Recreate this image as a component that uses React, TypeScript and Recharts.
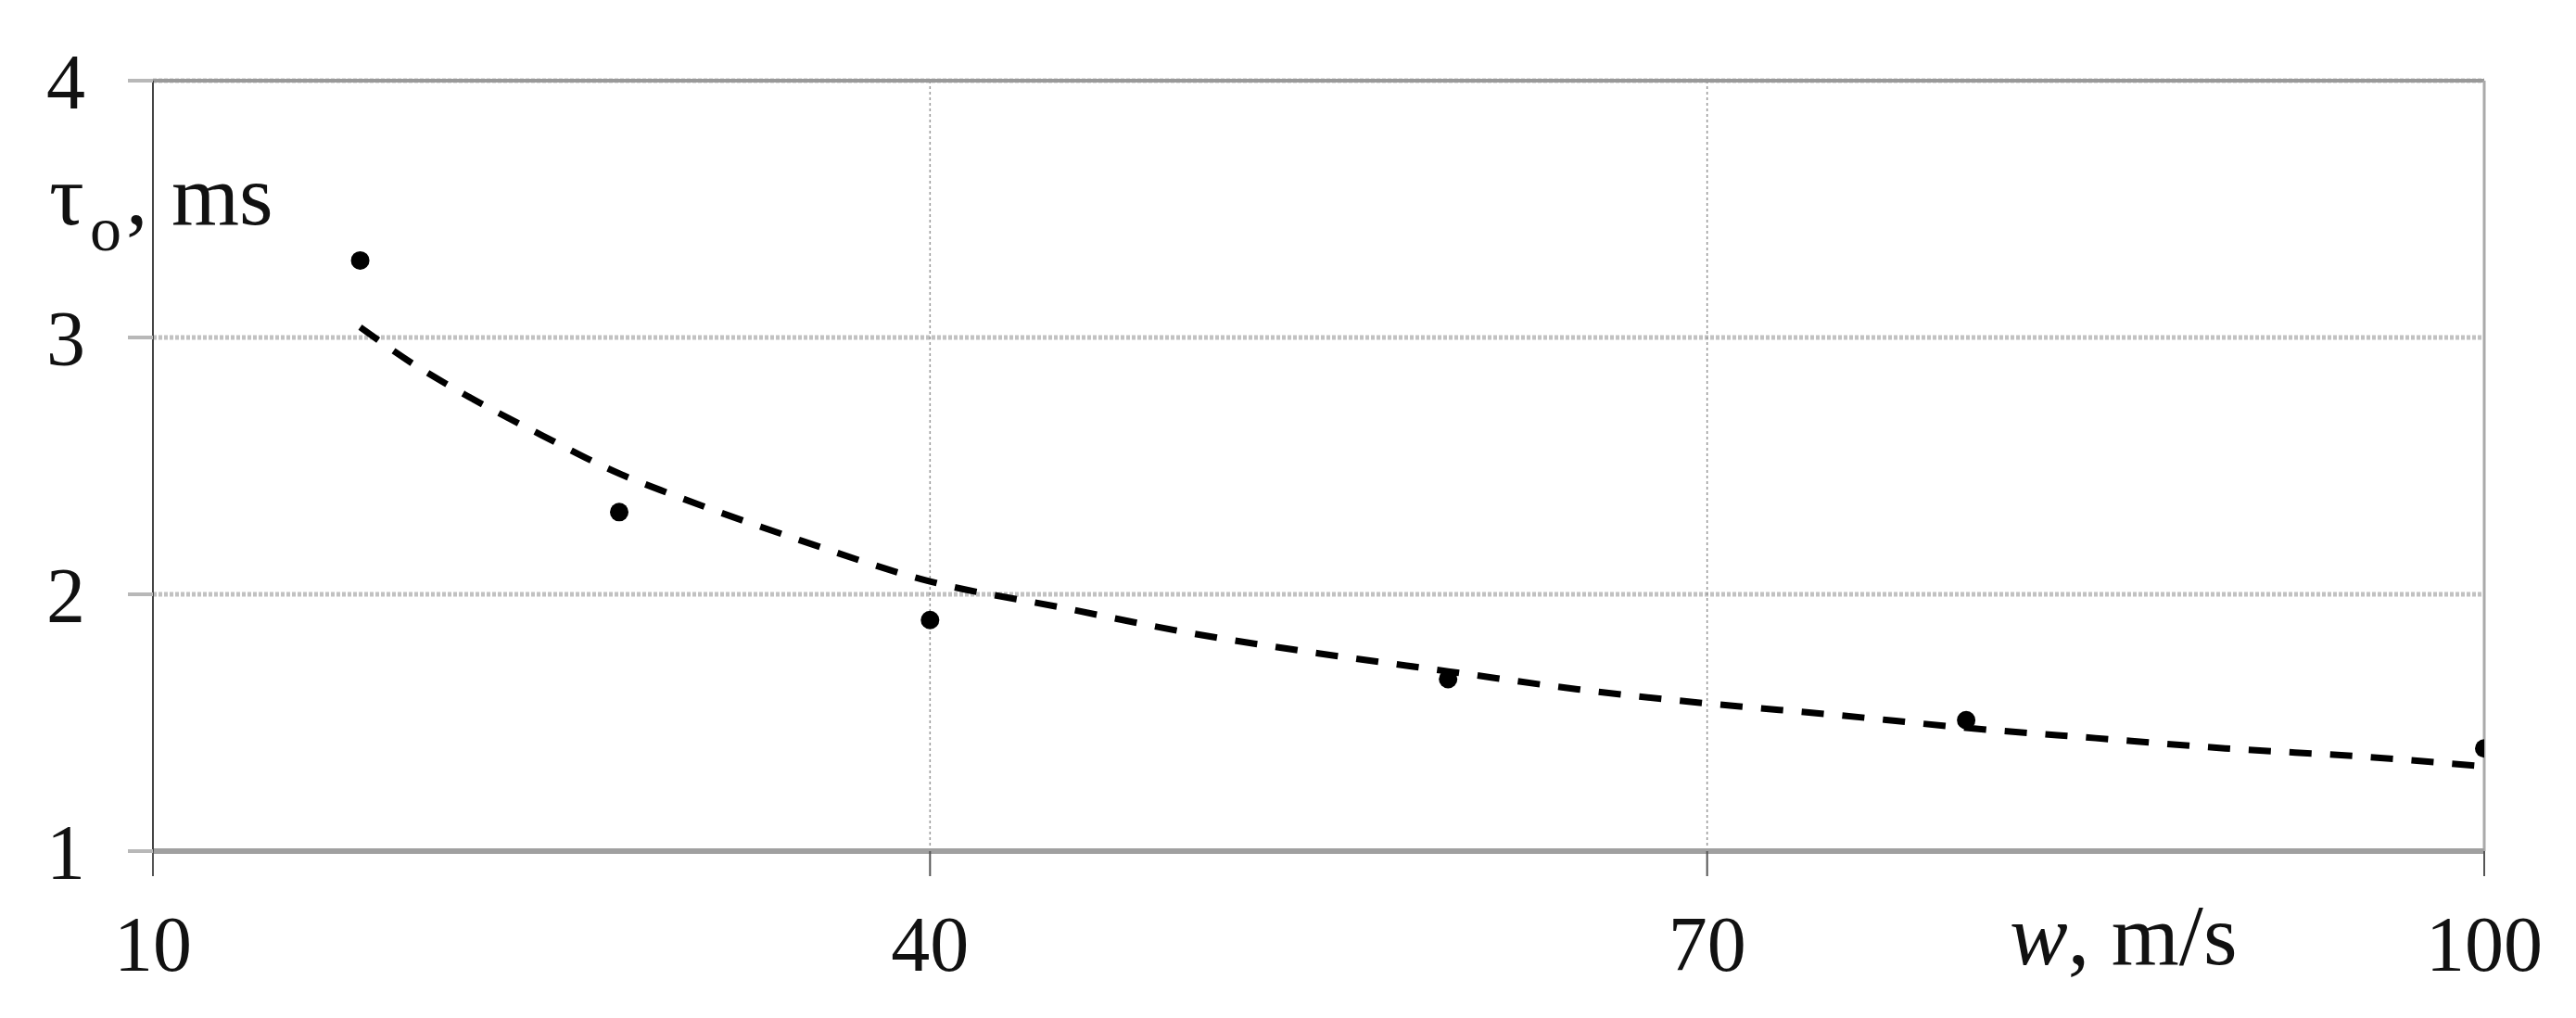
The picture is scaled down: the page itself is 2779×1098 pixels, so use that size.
import React from 'react';
import {
  ComposedChart,
  XAxis,
  YAxis,
  CartesianGrid,
  Scatter,
  Line,
  ReferenceLine,
} from 'recharts';

// measured points: w (m/s) vs tau_o (ms)
const pointW = [18, 28, 40, 60, 80, 100];
const pointTau = [3.3, 2.32, 1.9, 1.67, 1.51, 1.4];

// dashed trend curve
const trendW = [18, 20, 22, 25, 28, 30, 35, 40, 45, 50, 55, 60, 65, 70, 75, 80, 85, 90, 95, 100];
const trendTau = [3.04, 2.9, 2.78, 2.62, 2.47, 2.39, 2.21, 2.05, 1.95, 1.85, 1.77, 1.7, 1.63, 1.575, 1.53, 1.48, 1.44, 1.4, 1.37, 1.33];

const xTicks = [10, 40, 70, 100];
const yTicks = [1, 2, 3, 4];

const points = pointW.map((w, i) => ({ w, tau: pointTau[i] }));
const trend = trendW.map((w, i) => ({ w, tau: trendTau[i] }));

const W = 2779;
const H = 1098;
const FONT = '"Liberation Serif", "Times New Roman", serif';

const Dot = (props: any) => <circle cx={props.cx} cy={props.cy} r={10} fill="#000" />;

export default function App() {
  return (
    <div style={{ position: 'absolute', left: 0, top: 0, width: W, height: H, background: '#fff' }}>
      <ComposedChart width={W} height={H} margin={{ top: 87, right: 99, left: 20, bottom: 20 }}>
        <CartesianGrid
          horizontal={true}
          vertical={false}
          stroke="#c2c2c2"
          strokeWidth={5}
          strokeDasharray="4 2"
        />
        <CartesianGrid
          horizontal={false}
          vertical={true}
          stroke="#999"
          strokeWidth={1.5}
          strokeDasharray="3 3"
        />
        <XAxis
          type="number"
          dataKey="w"
          domain={[10, 100]}
          ticks={xTicks}
          allowDataOverflow
          height={160}
          tickSize={27}
          tickMargin={42}
          tickLine={{ stroke: '#555', strokeWidth: 2 }}
          axisLine={{ stroke: '#a0a0a0', strokeWidth: 6 }}
          tick={{ fontFamily: FONT, fontSize: 84, fill: '#111' }}
          label={{
            content: () => (
              <text x={2168} y={1040} fontFamily={FONT} fontSize={94} fill="#111">
                <tspan fontStyle="italic">w</tspan>
                <tspan>, m/s</tspan>
              </text>
            ),
          }}
        />
        <YAxis
          type="number"
          dataKey="tau"
          domain={[1, 4]}
          ticks={yTicks}
          allowDataOverflow
          width={145}
          tickSize={27}
          tickMargin={46}
          tickLine={{ stroke: '#b8b8b8', strokeWidth: 4 }}
          axisLine={{ stroke: '#444', strokeWidth: 2 }}
          tick={{ fontFamily: FONT, fontSize: 84, fill: '#111' }}
          label={{
            content: () => (
              <text y={242} fontFamily={FONT} fontSize={94} fill="#111">
                <tspan x={53}>τ</tspan>
                <tspan x={97} dy={28} fontSize={68}>o</tspan>
                <tspan x={136} dy={-28}>,</tspan>
                <tspan x={185}>ms</tspan>
              </text>
            ),
          }}
        />
        <ReferenceLine y={4} stroke="#999" strokeWidth={4} />
        <ReferenceLine x={100} stroke="#aaa" strokeWidth={3} />
        <Line
          data={trend}
          dataKey="tau"
          type="monotone"
          stroke="#000"
          strokeWidth={7}
          strokeDasharray="24 20"
          dot={false}
          activeDot={false}
          isAnimationActive={false}
        />
        <Scatter data={points} dataKey="tau" shape={Dot} isAnimationActive={false} />
      </ComposedChart>
    </div>
  );
}
